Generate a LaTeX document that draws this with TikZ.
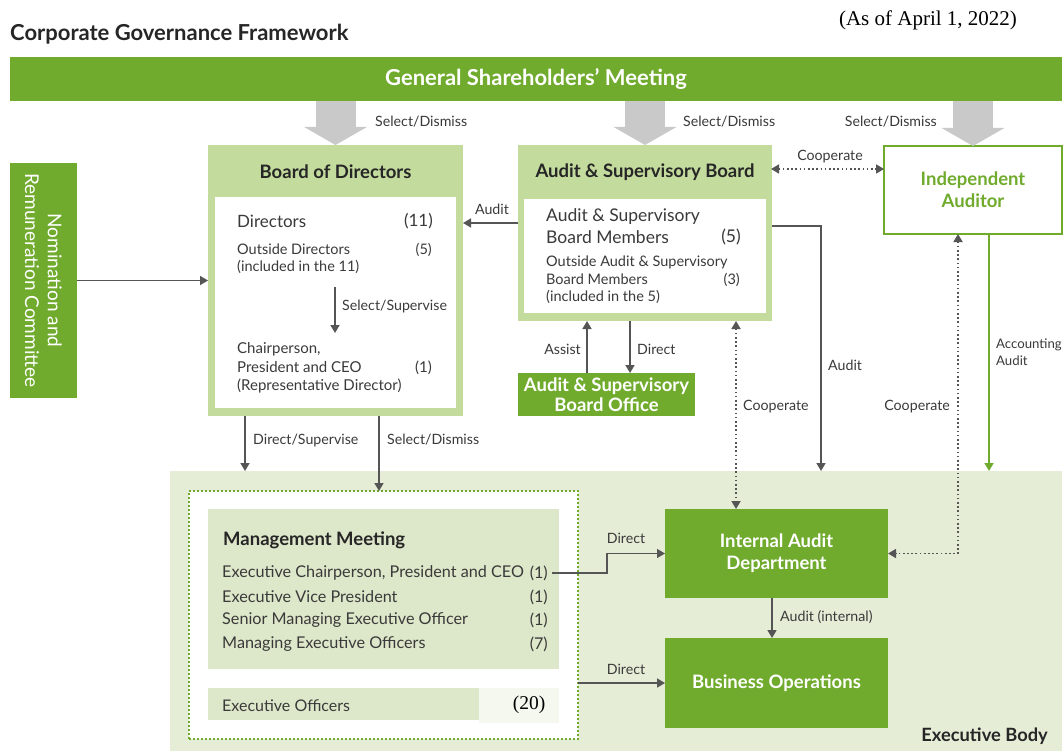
\documentclass[tikz,border=0pt]{standalone}
\usepackage{fontspec}
\setmainfont{Lato}
\newfontfamily\timesfont{Liberation Serif}
\usetikzlibrary{positioning,arrows.meta}
\definecolor{cgreen}{HTML}{70AB2D}
\definecolor{clight}{HTML}{C4DB9E}
\definecolor{cpale}{HTML}{E5EDD7}
\definecolor{cmeet}{HTML}{DDE7C9}
\definecolor{cgray}{HTML}{C9C9C9}
\definecolor{cdark}{HTML}{555555}
\definecolor{ctext}{HTML}{3A3A3A}
\newcommand{\fs}[1]{\fontsize{#1}{1.2\dimexpr#1pt\relax}\selectfont}
\tikzstyle{greenbox} = [fill=cgreen, text=white, inner sep=0pt, outer sep=0pt,
    anchor=north west, font=\bfseries\fs{18.5}, align=center]
\tikzstyle{lightbox} = [fill=clight, inner sep=0pt, outer sep=0pt, anchor=north west]
\tikzstyle{whitebox} = [fill=white, inner sep=0pt, outer sep=0pt, anchor=north west]
\tikzstyle{boxtitle} = [font=\bfseries\fs{18.5}, text=black!85, inner sep=0pt]
\tikzstyle{entry} = [anchor=west, inner sep=0pt, text=ctext, align=left]
\tikzstyle{count} = [anchor=east, inner sep=0pt, text=ctext]
\tikzstyle{lbl} = [font=\fs{14.2}, text=ctext, inner sep=0pt]
\tikzstyle{link} = [draw=cdark, line width=1.6pt, -{Triangle[length=8pt,width=9pt]}]
\tikzstyle{glink} = [draw=cgreen, line width=1.8pt, -{Triangle[length=8pt,width=9pt]}]
\tikzstyle{dotlink} = [draw=cdark, line width=1.7pt, dash pattern=on 1.7pt off 2.5pt,
    {Triangle[length=8pt,width=9pt]}-{Triangle[length=8pt,width=9pt]}]
\tikzstyle{bigarrow} = [draw=cgray, line width=40pt, -{Triangle[length=18pt,width=62pt]}]

\begin{document}
\begin{tikzpicture}[x=1pt,y=-1pt]
    \useasboundingbox[fill=white] (0,0) rectangle (1064,751);
    % heading
    \node[anchor=west, inner sep=0pt, font=\bfseries\fs{22}, text=black!85] (title) at (10,34) {Corporate Governance Framework};
    \node[inner sep=0pt, font=\timesfont\fs{21}] (date) at (928,20) {(As of April 1, 2022)};
    \node[fill=cgreen, text=white, font=\bfseries\fs{22}, inner sep=0pt, outer sep=0pt,
        minimum width=1052pt, minimum height=44pt] (gsm) at (536,79) {General Shareholders' Meeting};

    % executive body
    \node[fill=cpale, inner sep=0pt, outer sep=0pt, anchor=north west,
        minimum width=892pt, minimum height=280pt] (exb) at (170,471) {};
    \node[anchor=east, inner sep=0pt, font=\bfseries\fs{18.3}, text=black!85] (exbl) at (1048,736) {Executive Body};
    \node[whitebox, draw=cgreen, line width=1.6pt, dash pattern=on 1.6pt off 2.4pt,
        minimum width=389pt, minimum height=248pt] (dotr) at (189,491) {};

    % boxes
    \node[greenbox, minimum width=67pt, minimum height=235pt] (nom) at (10,163) {};
    \node[text=white, rotate=-90, align=center, font=\fs{19}, inner sep=0pt] (noml) at (nom.center) {Nomination and\\Remuneration Committee};
    \node[lightbox, minimum width=255pt, minimum height=271pt] (bod) at (208,145) {};
    \node[whitebox, minimum width=241pt, minimum height=211pt] (bodin) at (215,197) {};
    \node[boxtitle] (bodt) at (335.5,172) {Board of Directors};
    \node[lightbox, minimum width=254pt, minimum height=176pt] (asb) at (518,145) {};
    \node[whitebox, minimum width=242pt, minimum height=114pt] (asbin) at (524,199) {};
    \node[boxtitle] (asbt) at (645,172) {Audit \& Supervisory Board};
    \node[whitebox, draw=cgreen, line width=2pt, minimum width=178pt, minimum height=88pt,
        text=cgreen, font=\bfseries\fs{18.5}, align=center] (ia) at (884,146) {Independent\\Auditor};
    \node[greenbox, minimum width=177pt, minimum height=43pt, font=\bfseries\fontsize{18.5}{20}\selectfont] (asbo) at (518,373) {Audit \& Supervisory\\Board Office};
    \node[fill=cmeet, inner sep=0pt, outer sep=0pt, anchor=north west,
        minimum width=351pt, minimum height=160pt] (mm) at (208,509) {};
    \node[fill=cmeet, inner sep=0pt, outer sep=0pt, anchor=north west,
        minimum width=271pt, minimum height=32pt] (eo) at (208,688) {};
    \node[fill=cpale!40, inner sep=0pt, outer sep=0pt, anchor=north west,
        minimum width=80pt, minimum height=35pt] (eon) at (479,688) {};
    \node[greenbox, minimum width=223pt, minimum height=89pt] (iad) at (665,509) {Internal Audit\\Department};
    \node[greenbox, minimum width=223pt, minimum height=90pt] (bo) at (665,638) {Business Operations};

    % Board of Directors entries
    \node[entry, font=\fs{17}] (dir) at (237,221) {Directors};
    \node[count, font=\fs{17}] (dirn) at (433,221) {(11)};
    \node[entry, font=\fontsize{14.5}{17}\selectfont] (od) at (237,258.5) {Outside Directors\\(included in the 11)};
    \node[count, font=\fs{14.5}] (odn) at (432,250) {(5)};
    \node[entry, font=\fontsize{15}{18.5}\selectfont] (chair) at (237,368) {Chairperson,\\President and CEO\\(Representative Director)};
    \node[count, font=\fs{15}] (chairn) at (432,368) {(1)};

    % Audit & Supervisory Board entries
    \node[entry, font=\fontsize{17.5}{22}\selectfont] (asm) at (546,226) {Audit \& Supervisory\\Board Members};
    \node[count, font=\fs{17.5}] (asmn) at (741,237) {(5)};
    \node[entry, font=\fontsize{14.5}{17.5}\selectfont] (oasm) at (546,280) {Outside Audit \& Supervisory\\Board Members\\(included in the 5)};
    \node[count, font=\fs{14.5}] (oasmn) at (740,280) {(3)};

    % Management Meeting entries
    \node[entry, font=\bfseries\fs{18.5}, text=black!85] (mmt) at (223,540) {Management Meeting};
    \node[entry, font=\fs{16.2}] (m1) at (222,573) {Executive Chairperson, President and CEO};
    \node[entry, font=\fs{16.2}] (m2) at (222,597) {Executive Vice President};
    \node[entry, font=\fs{16.2}] (m3) at (222,620) {Senior Managing Executive Officer};
    \node[entry, font=\fs{16.2}] (m4) at (222,644) {Managing Executive Officers};
    \node[count, font=\fs{16.2}] (m1n) at (548,573) {(1)};
    \node[count, font=\fs{16.2}] (m2n) at (548,597) {(1)};
    \node[count, font=\fs{16.2}] (m3n) at (548,620) {(1)};
    \node[count, font=\fs{16.2}] (m4n) at (548,644) {(7)};
    \node[entry, font=\fs{16}] (eot) at (222,706) {Executive Officers};
    \node[inner sep=0pt, font=\timesfont\fs{19.5}] (eonum) at (529,705) {(20)};

    % select/dismiss from the meeting
    \draw[bigarrow] (gsm.south -| bod.north) -- (bod.north);
    \draw[bigarrow] (gsm.south -| asb.north) -- (asb.north);
    \draw[bigarrow] (gsm.south -| ia.north) -- (ia.north);
    \node[lbl, anchor=west] (sd1) at (375,122) {Select/Dismiss};
    \node[lbl, anchor=west] (sd2) at (683,122) {Select/Dismiss};
    \node[lbl, anchor=east] (sd3) at (937,122) {Select/Dismiss};

    % connectors
    \coordinate (au) at (518,223);
    \coordinate (co) at (771,169);
    \coordinate (ss) at (335,287);
    \coordinate (a2) at (821,226);
    \coordinate (dm) at (607,553.5);
    \draw[link] (nom.east) -- (nom.east -| bod.west);
    \draw[link] (au) -- (au -| bod.east);
    \node[lbl] (aul) at (492,209) {Audit};
    \draw[dotlink] (co) -- (co -| ia.west);
    \node[lbl] (col) at (830,157) {Cooperate};
    \draw[link] (ss) -- (ss |- 0,333);
    \node[lbl, anchor=west] (ssl) at (342,306) {Select/Supervise};
    \draw[link] (asbo.north -| 587,0) -- (asb.south -| 587,0);
    \node[lbl, anchor=east] (asl) at (581,349) {Assist};
    \draw[link] (asb.south -| 630,0) -- (asbo.north -| 630,0);
    \node[lbl, anchor=west] (dil) at (637,349) {Direct};
    \draw[dotlink] (asb.south -| 736,0) -- (iad.north -| 736,0);
    \node[lbl, anchor=west] (cvl) at (743,407) {Cooperate};
    \draw[link] (asb.east |- a2) -- (a2) -- (a2 |- exb.north);
    \node[lbl, anchor=west] (a2l) at (828,365) {Audit};
    \draw[glink] (ia.south -| 989,0) -- (exb.north -| 989,0);
    \node[lbl, anchor=west, align=left, font=\fontsize{13.2}{16.5}\selectfont] (acl) at (996,352) {Accounting\\Audit};
    \draw[dotlink] (ia.south -| 958,0) |- (iad.east);
    \node[lbl, anchor=east] (c2l) at (950,407) {Cooperate};
    \draw[link] (bod.south -| 245,0) -- (exb.north -| 245,0);
    \node[lbl, anchor=west] (dsl) at (253,440) {Direct/Supervise};
    \draw[link] (bod.south -| 379,0) -- (dotr.north -| 379,0);
    \node[lbl, anchor=west] (sdl) at (387,440) {Select/Dismiss};
    \draw[link] ([xshift=4pt]m1n.east) -| (dm) -- (iad.west);
    \node[lbl] (d1l) at (626,538) {Direct};
    \draw[link] (dotr.east |- bo) -- (bo.west);
    \node[lbl] (d2l) at (626,669) {Direct};
    \draw[link] (iad.south -| 772,0) -- (bo.north -| 772,0);
    \node[lbl, anchor=west] (ail) at (780,617) {Audit (internal)};
\end{tikzpicture}
\end{document}
